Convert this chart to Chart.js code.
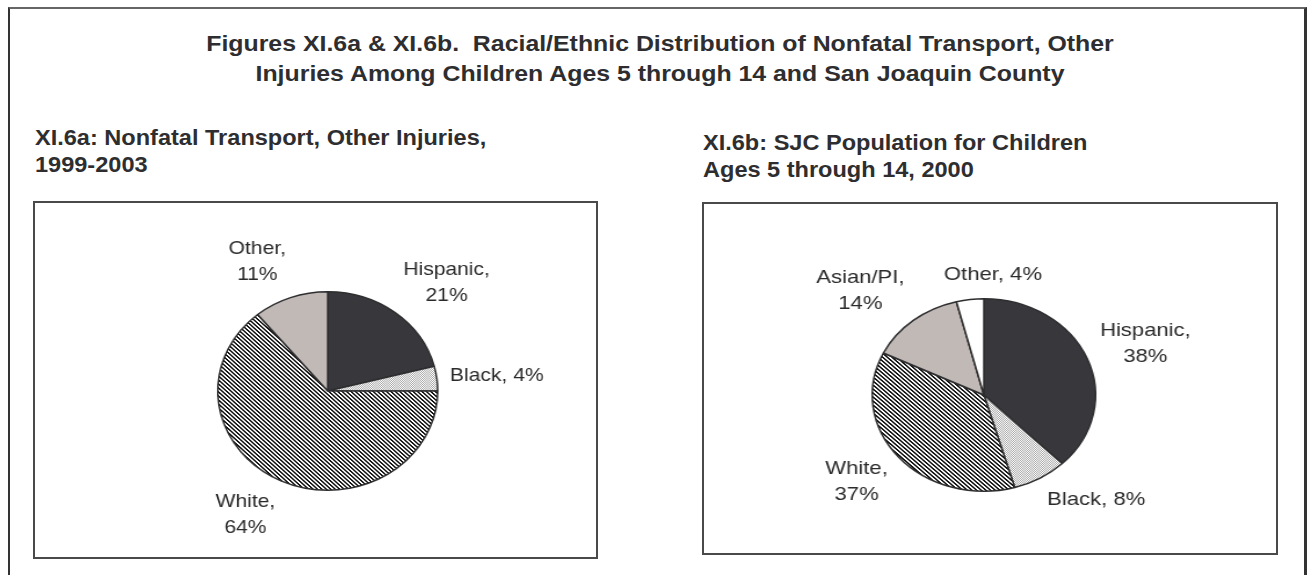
<!DOCTYPE html>
<html>
<head>
<meta charset="utf-8">
<script src="https://cdn.jsdelivr.net/npm/chart.js@4.4.1/dist/chart.umd.min.js"></script>
<style>
  html, body { margin: 0; padding: 0; background: #fff; width: 1307px; height: 575px; overflow: hidden; }
  body { position: relative; font-family: "Liberation Sans", Arial, Helvetica, sans-serif; color: #2e2e30; }
  #frame { position: absolute; left: 8px; top: 7px; width: 1294px; height: 620px; border-left: 2px solid #333; border-top: 2px solid #666; border-right: 3px solid #333; }
  .title { position: absolute; left: 0; width: 1320px; text-align: center; font-weight: bold; font-size: 22px; line-height: 22px; white-space: nowrap; transform: scaleX(1.13); transform-origin: 660px 0; }
  .sub { position: absolute; font-weight: bold; font-size: 22px; line-height: 27px; white-space: nowrap; transform: scaleX(1.07); transform-origin: 0 0; }
  .box { position: absolute; border: 2px solid #4a4a4a; box-sizing: border-box; }
  canvas { position: absolute; transform-origin: 0 0; }
</style>
</head>
<body>
<div id="frame"></div>
<div class="title" style="top:33px">Figures XI.6a &amp; XI.6b.&nbsp; Racial/Ethnic Distribution of Nonfatal Transport, Other</div>
<div class="title" style="top:63px">Injuries Among Children Ages 5 through 14 and San Joaquin County</div>

<div class="sub" style="left:35px; top:124px">XI.6a: Nonfatal Transport, Other Injuries,<br>1999-2003</div>
<div class="sub" style="left:703px; top:129px">XI.6b: SJC Population for Children<br>Ages 5 through 14, 2000</div>

<div class="box" style="left:33px; top:201px; width:565px; height:358px"></div>
<div class="box" style="left:702px; top:202px; width:576px; height:353px"></div>

<canvas id="pieA" width="509" height="357" style="left:33px; top:201px; transform:scaleX(1.108)"></canvas>
<canvas id="pieB" width="496" height="352" style="left:702px; top:202px; transform:scaleX(1.16)"></canvas>

<script>
// Data
const groupsA = ['Hispanic', 'Black', 'White', 'Other'];
const valuesA = [21, 4, 64, 11];

const groupsB = ['Hispanic', 'Black', 'White', 'Asian/PI', 'Other'];
const valuesB = [38, 8, 37, 14, 4];

// Fills
const DARK = '#38373c';
const TAUPE = '#c1b9b6';

function makeTile(size, draw) {
    const c = document.createElement('canvas');
    c.width = size;
    c.height = size;
    const g = c.getContext('2d');
    g.fillStyle = '#fff';
    g.fillRect(0, 0, size, size);
    draw(g);
    return c;
}

// "\\\\" stripes, pixel exact so they stay crisp
function hatchPattern(ctx) {
    const tile = makeTile(4, (g) => {
        g.fillStyle = '#151515';
        for (let y = 0; y < 4; y++) {
            g.fillRect(y % 4, y, 1, 1);
            g.fillRect((y + 1) % 4, y, 1, 1);
        }
    });
    return ctx.createPattern(tile, 'repeat');
}

function dotPattern(ctx) {
    const tile = makeTile(2, (g) => {
        g.fillStyle = '#a8a8a8';
        g.fillRect(0, 0, 1, 1);
        g.fillRect(1, 1, 1, 1);
    });
    return ctx.createPattern(tile, 'repeat');
}

// Labels outside the slices, Excel style
const sliceLabels = {
    id: 'sliceLabels',
    afterDatasetsDraw(chart, args, opts) {
        const ctx = chart.ctx;
        const meta = chart.getDatasetMeta(0);
        const values = chart.data.datasets[0].data;
        ctx.save();
        ctx.font = opts.font;
        ctx.fillStyle = opts.color;
        ctx.textAlign = 'center';
        ctx.textBaseline = 'middle';

        meta.data.forEach((arc, i) => {
            const name = chart.data.labels[i] + ',';
            const pct = values[i] + '%';
            const one = name + ' ' + pct;
            const lines = ctx.measureText(one).width > opts.wrapWidth ? [name, pct] : [one];
            const w = Math.max(...lines.map(l => ctx.measureText(l).width));
            const h = lines.length * opts.lineHeight;

            const mid = (arc.startAngle + arc.endAngle) / 2;
            const cos = Math.cos(mid);
            const sin = Math.sin(mid);
            const r = arc.outerRadius + opts.gap;
            const ax = arc.x + r * cos;
            const ay = arc.y + r * sin;
            const side = Math.max(-1, Math.min(1, cos * 3));
            const cx = ax + side * w / 2 + (opts.nudge[i] || 0);
            const cy = ay + sin * h / 2;

            lines.forEach((l, k) => {
                ctx.fillText(l, cx, cy - h / 2 + opts.lineHeight * (k + 0.5));
            });
        });
        ctx.restore();
    }
};

function makePie(id, groups, values, fills, padding, nudge) {
    const ctx = document.getElementById(id).getContext('2d');
    return new Chart(ctx, {
        type: 'pie',
        data: {
            labels: groups,
            datasets: [{
                data: values,
                backgroundColor: fills,
                borderColor: '#2e2e30',
                borderWidth: 1.5
            }]
        },
        options: {
            responsive: false,
            animation: false,
            events: [],
            layout: { padding: padding },
            plugins: {
                legend: { display: false },
                tooltip: { enabled: false },
                sliceLabels: {
                    font: '19px "Liberation Sans", Arial, sans-serif',
                    color: '#2b2b2b',
                    lineHeight: 26,
                    wrapWidth: 90,
                    gap: 12,
                    nudge: nudge
                }
            }
        },
        plugins: [sliceLabels]
    });
}

const ctxA = document.getElementById('pieA').getContext('2d');
const ctxB = document.getElementById('pieB').getContext('2d');

makePie('pieA', groupsA, valuesA,
    [DARK, dotPattern(ctxA), hatchPattern(ctxA), TAUPE],
    { left: 166, right: 143, top: 90, bottom: 67 },
    []);

makePie('pieB', groupsB, valuesB,
    [DARK, dotPattern(ctxB), hatchPattern(ctxB), TAUPE, '#ffffff'],
    { left: 146, right: 156, top: 96, bottom: 62 },
    [0, 0, 0, 0, 37]);
</script>
</body>
</html>
